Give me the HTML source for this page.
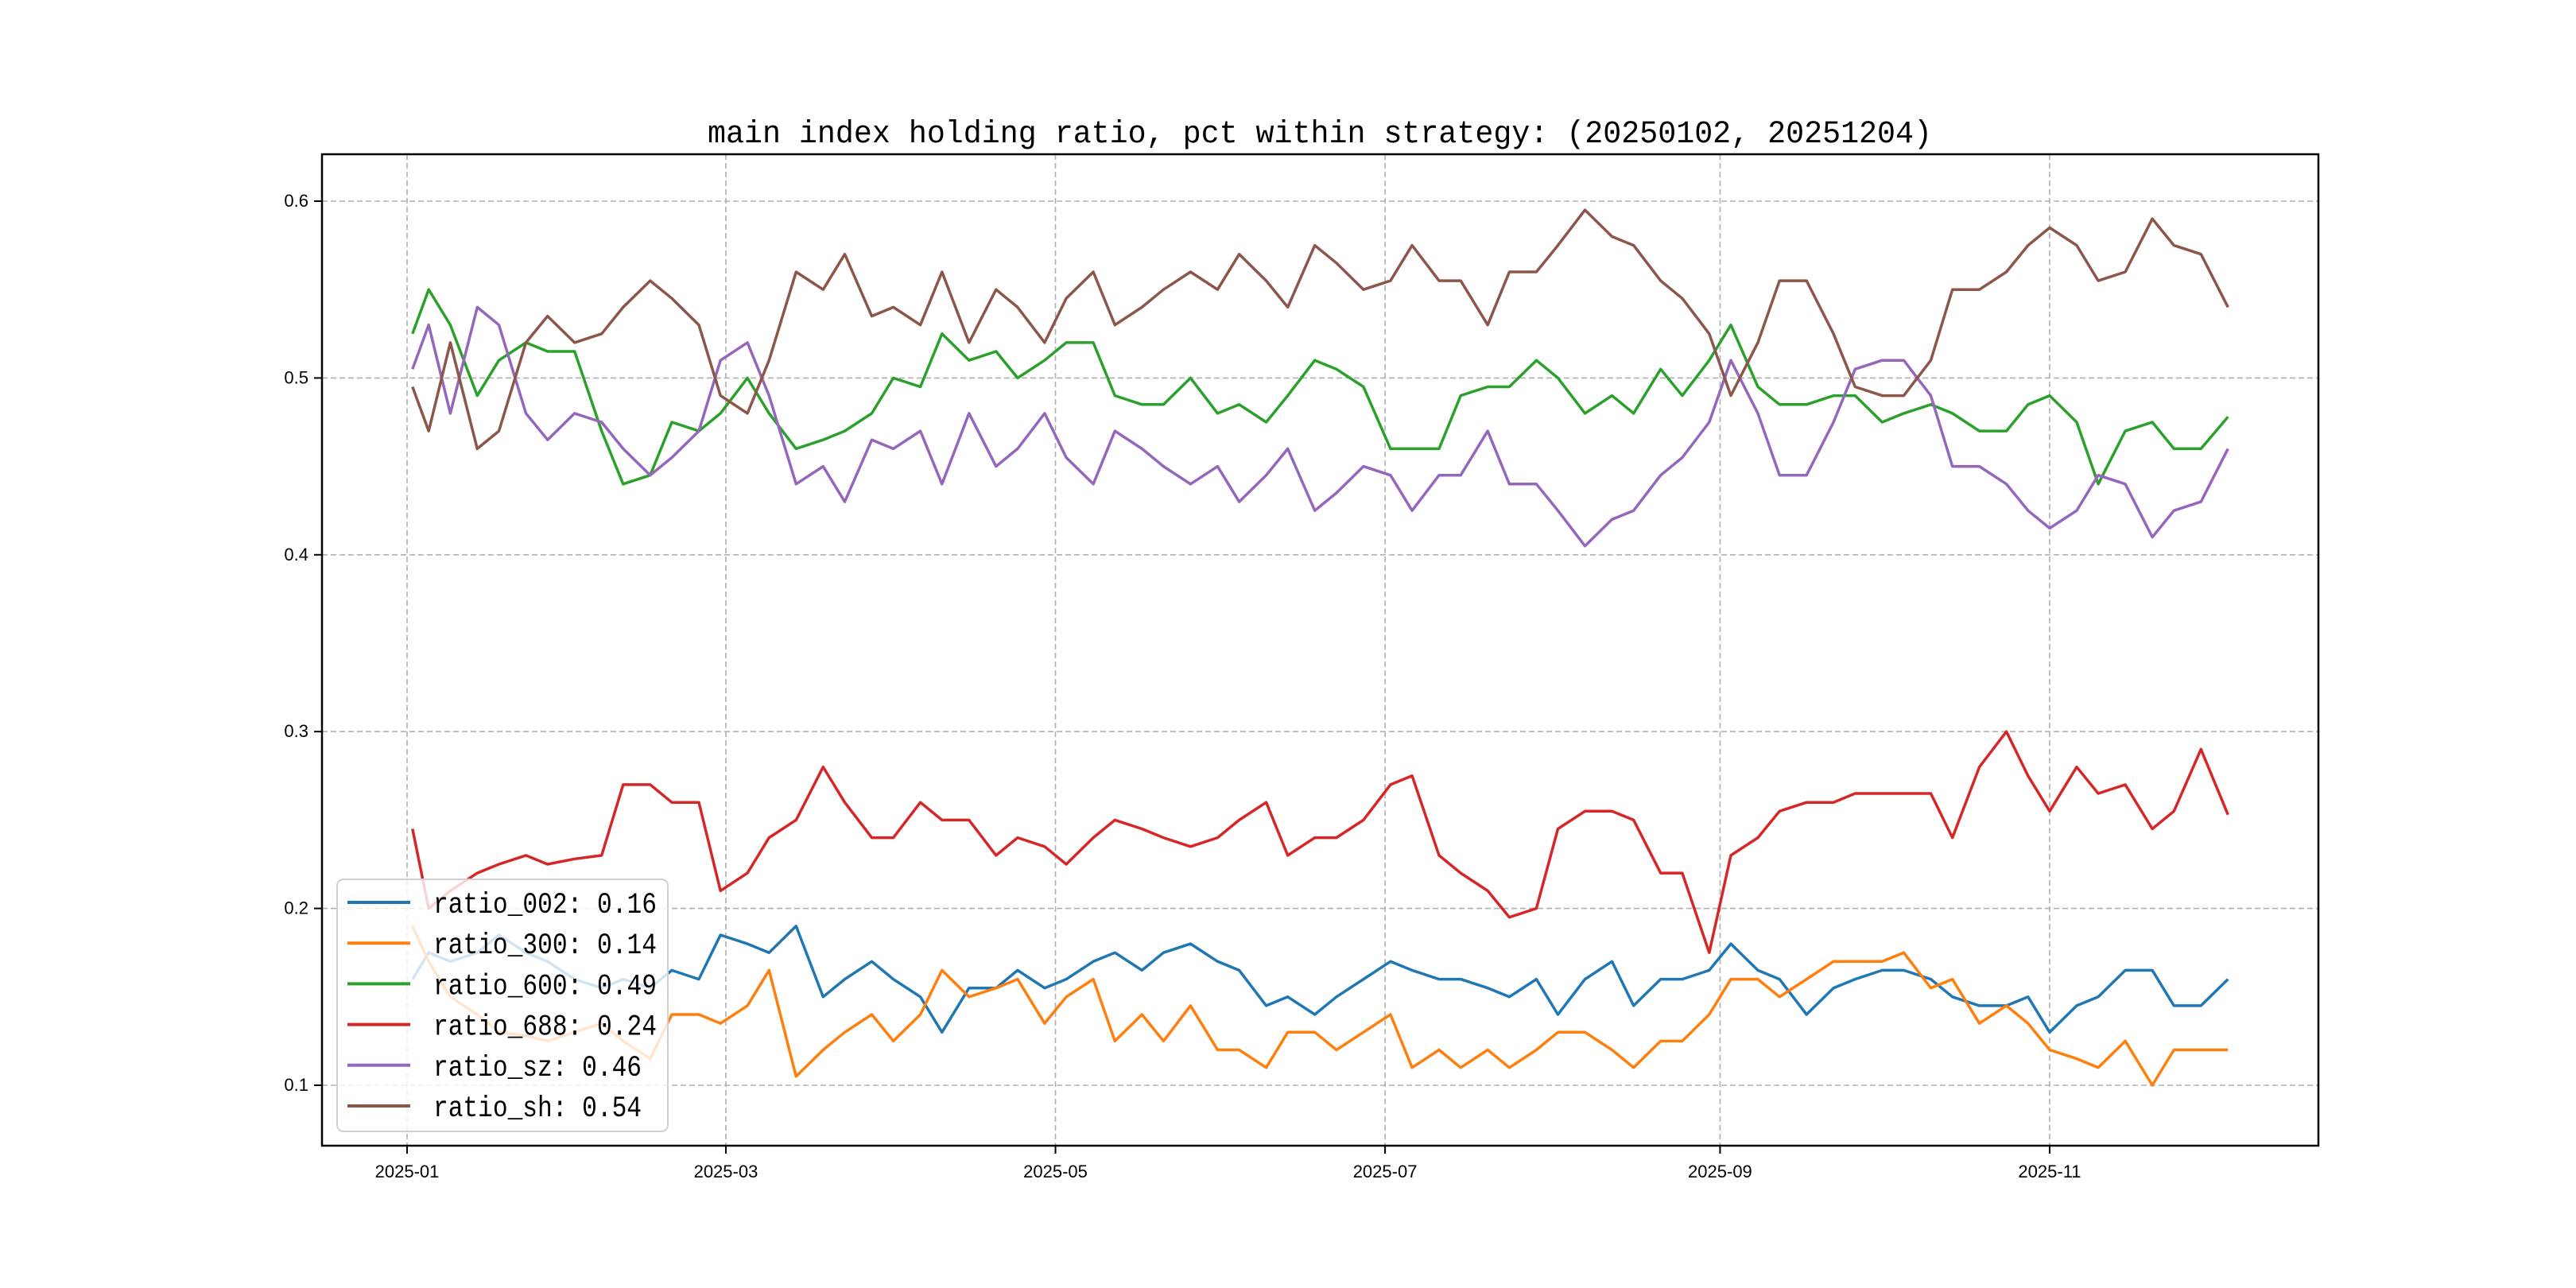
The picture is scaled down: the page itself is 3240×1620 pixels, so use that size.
<!DOCTYPE html>
<html><head><meta charset="utf-8"><style>
html,body{margin:0;padding:0;background:#fff;}
svg{display:block;}
</style></head><body>
<svg id="chart" width="3240" height="1620" viewBox="0 0 3240 1620" xmlns="http://www.w3.org/2000/svg">
<rect width="3240" height="1620" fill="#fff"/>
<text x="1660" y="179" text-anchor="middle" font-family="Liberation Mono, monospace" font-size="40" textLength="1540" lengthAdjust="spacingAndGlyphs" fill="#000">main index holding ratio, pct within strategy: (20250102, 20251204)</text>
<g id="grid"></g>
<g id="series"></g>
<rect x="405" y="194" width="2511" height="1247" fill="none" stroke="#000" stroke-width="2.5"/>
<g id="ticks"></g>
<g id="legend"></g>
</svg>
<script>
const days = [1,4,8,13,17,22,26,31,36,40,45,49,54,58,63,67,72,77,81,86,90,95,99,104,109,113,118,122,127,131,136,140,145,150,154,159,163,168,172,177,182,186,191,195,200,204,209,213,218,223,227,232,236,241,245,250,254,259,264,268,273,277,282,286,291,296,300,304,309,313,318,323,327,332,337];
const r002 = [.16,.175,.17,.175,.185,.175,.17,.16,.155,.16,.155,.165,.16,.185,.18,.175,.19,.15,.16,.17,.16,.15,.13,.155,.155,.165,.155,.16,.17,.175,.165,.175,.18,.17,.165,.145,.15,.14,.15,.16,.17,.165,.16,.16,.155,.15,.16,.14,.16,.17,.145,.16,.16,.165,.18,.165,.16,.14,.155,.16,.165,.165,.16,.15,.145,.145,.15,.13,.145,.15,.165,.165,.145,.145,.16];
const r300 = [.19,.17,.15,.14,.13,.128,.125,.13,.135,.125,.115,.14,.14,.135,.145,.165,.105,.12,.13,.14,.125,.14,.165,.15,.155,.16,.135,.15,.16,.125,.14,.125,.145,.12,.12,.11,.13,.13,.12,.13,.14,.11,.12,.11,.12,.11,.12,.13,.13,.12,.11,.125,.125,.14,.16,.16,.15,.16,.17,.17,.17,.175,.155,.16,.135,.145,.135,.12,.115,.11,.125,.10,.12,.12,.12];
const r600 = [.525,.55,.53,.49,.51,.52,.515,.515,.47,.44,.445,.475,.47,.48,.50,.48,.46,.465,.47,.48,.50,.495,.525,.51,.515,.50,.51,.52,.52,.49,.485,.485,.50,.48,.485,.475,.49,.51,.505,.495,.46,.46,.46,.49,.495,.495,.51,.50,.48,.49,.48,.505,.49,.51,.53,.495,.485,.485,.49,.49,.475,.48,.485,.48,.47,.47,.485,.49,.475,.44,.47,.475,.46,.46,.478];
const r688 = [.245,.20,.21,.22,.225,.23,.225,.228,.23,.27,.27,.26,.26,.21,.22,.24,.25,.28,.26,.24,.24,.26,.25,.25,.23,.24,.235,.225,.24,.25,.245,.24,.235,.24,.25,.26,.23,.24,.24,.25,.27,.275,.23,.22,.21,.195,.20,.245,.255,.255,.25,.22,.22,.175,.23,.24,.255,.26,.26,.265,.265,.265,.265,.24,.28,.30,.275,.255,.28,.265,.27,.245,.255,.29,.253];
const rsz = [.505,.53,.48,.54,.53,.48,.465,.48,.475,.46,.445,.455,.47,.51,.52,.49,.44,.45,.43,.465,.46,.47,.44,.48,.45,.46,.48,.455,.44,.47,.46,.45,.44,.45,.43,.445,.46,.425,.435,.45,.445,.425,.445,.445,.47,.44,.44,.425,.405,.42,.425,.445,.455,.475,.51,.48,.445,.445,.475,.505,.51,.51,.49,.45,.45,.44,.425,.415,.425,.445,.44,.41,.425,.43,.46];
const rsh = [.495,.47,.52,.46,.47,.52,.535,.52,.525,.54,.555,.545,.53,.49,.48,.51,.56,.55,.57,.535,.54,.53,.56,.52,.55,.54,.52,.545,.56,.53,.54,.55,.56,.55,.57,.555,.54,.575,.565,.55,.555,.575,.555,.555,.53,.56,.56,.575,.595,.58,.575,.555,.545,.525,.49,.52,.555,.555,.525,.495,.49,.49,.51,.55,.55,.56,.575,.585,.575,.555,.56,.59,.575,.57,.54];
const seriesNames = ["ratio_002","ratio_300","ratio_600","ratio_688","ratio_sz","ratio_sh"];
const seriesLabels = ["0.16","0.14","0.49","0.24","0.46","0.54"];
const yTicks = [0.1,0.2,0.3,0.4,0.5,0.6];
const xTickLabels = ["2025-01","2025-03","2025-05","2025-07","2025-09","2025-11"];
const xTickDays = [0,59,120,181,243,304];

const colors = ["#1f77b4","#ff7f0e","#2ca02c","#d62728","#9467bd","#8c564b"];
const NS = "http://www.w3.org/2000/svg";
function xs(d){ return 512 + d * 6.796; }
function ys(v){ return 253 + (0.6 - v) * 2224; }
function mk(tag, attrs, parent){ const e = document.createElementNS(NS, tag); for (const k in attrs) e.setAttribute(k, attrs[k]); parent.appendChild(e); return e; }

const grid = document.getElementById('grid'), ticks = document.getElementById('ticks');
yTicks.forEach((v,i)=>{
  const g = mk('line',{x1:405,x2:2916,y1:ys(v),y2:ys(v),stroke:'#b0b0b0','stroke-width':1.6,'stroke-dasharray':'7,4'},grid);
  
  
  const t = mk('line',{x1:395,x2:405,y1:ys(v),y2:ys(v),stroke:'#000','stroke-width':2},ticks);
  
  
  const l = mk('text',{x:388,y:ys(v)+7,'text-anchor':'end','font-family':'Liberation Sans, sans-serif','font-size':22,fill:'#000'},ticks);
  l.textContent = v.toFixed(1);
  
  
});
xTickDays.forEach((d,i)=>{
  const g = mk('line',{x1:xs(d),x2:xs(d),y1:194,y2:1441,stroke:'#b0b0b0','stroke-width':1.6,'stroke-dasharray':'7,4'},grid);
  
  
  const t = mk('line',{x1:xs(d),x2:xs(d),y1:1441,y2:1451,stroke:'#000','stroke-width':2},ticks);
  
  
  const l = mk('text',{x:xs(d),y:1481,'text-anchor':'middle','font-family':'Liberation Sans, sans-serif','font-size':22,fill:'#000'},ticks);
  l.textContent = xTickLabels[i];
  
  
});

const data = [r002,r300,r600,r688,rsz,rsh];
const sg = document.getElementById('series');
data.forEach((arr,si)=>{
  const pts = arr.map((v,i)=>xs(days[i]).toFixed(1)+','+ys(v).toFixed(1)).join(' ');
  const p = mk('polyline',{points:pts,fill:'none',stroke:colors[si],'stroke-width':3.5,'stroke-linejoin':'round'},sg);
  
  
});

const lg = document.getElementById('legend');
const box = mk('rect',{x:424,y:1106,width:416,height:317,rx:8,fill:'#fff','fill-opacity':0.8,stroke:'#d0d0d0','stroke-width':2},lg);


seriesNames.forEach((n,i)=>{
  const y = 1135 + i*51.2;
  const ln = mk('line',{x1:437,x2:516,y1:y,y2:y,stroke:colors[i],'stroke-width':4},lg);
  
  
  const s = n + ': ' + seriesLabels[i];
  const t = mk('text',{x:545,y:y+13,'font-family':'Liberation Mono, monospace','font-size':37,fill:'#000',textLength:(s.length*18.7).toFixed(0),lengthAdjust:'spacingAndGlyphs'},lg);
  t.textContent = s;
  
  
});
</script>
</body></html>
